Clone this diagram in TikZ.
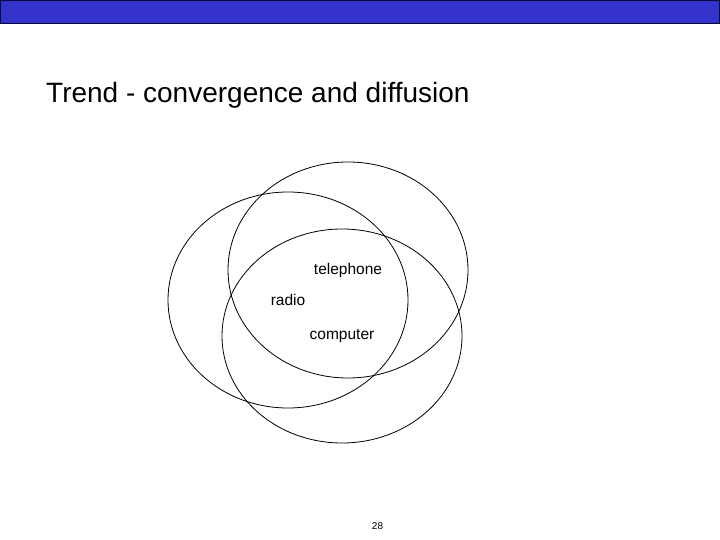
\documentclass[tikz,border=0pt]{standalone}
\usepackage{fontspec}
\setmainfont{Liberation Sans}
\usepackage{xcolor}
\usetikzlibrary{shapes,positioning}

\definecolor{barblue}{RGB}{51,51,204}
\definecolor{barline}{RGB}{10,10,60}

\begin{document}
\begin{tikzpicture}[
    x = 1pt, y = -1pt,
    media/.style = {draw, ellipse, inner sep=0pt, line width=0.8pt,
                    minimum width=240pt, minimum height=216pt,
                    font=\fontsize{15.5}{18}\selectfont},
  ]
    \useasboundingbox (0,0) rectangle (720,540);

    % header bar and title
    \draw[fill=barblue, draw=barline, line width=1pt] (0.5,0.5) rectangle (719.5,24);
    \node (title) [anchor=base west, inner sep=0pt, font=\fontsize{28}{32}\selectfont]
        at (46,103) {Trend - convergence and diffusion};

    % the three overlapping sets
    \node (telephone) [media] at (348,270) {telephone};
    \node (radio) [media] at (288,300) {radio};
    \node (computer) [media, minimum height=214pt] at (342,336) {computer};

    \node (page) [inner sep=0pt, font=\fontsize{10}{12}\selectfont] at (377.5,526) {28};
\end{tikzpicture}
\end{document}
